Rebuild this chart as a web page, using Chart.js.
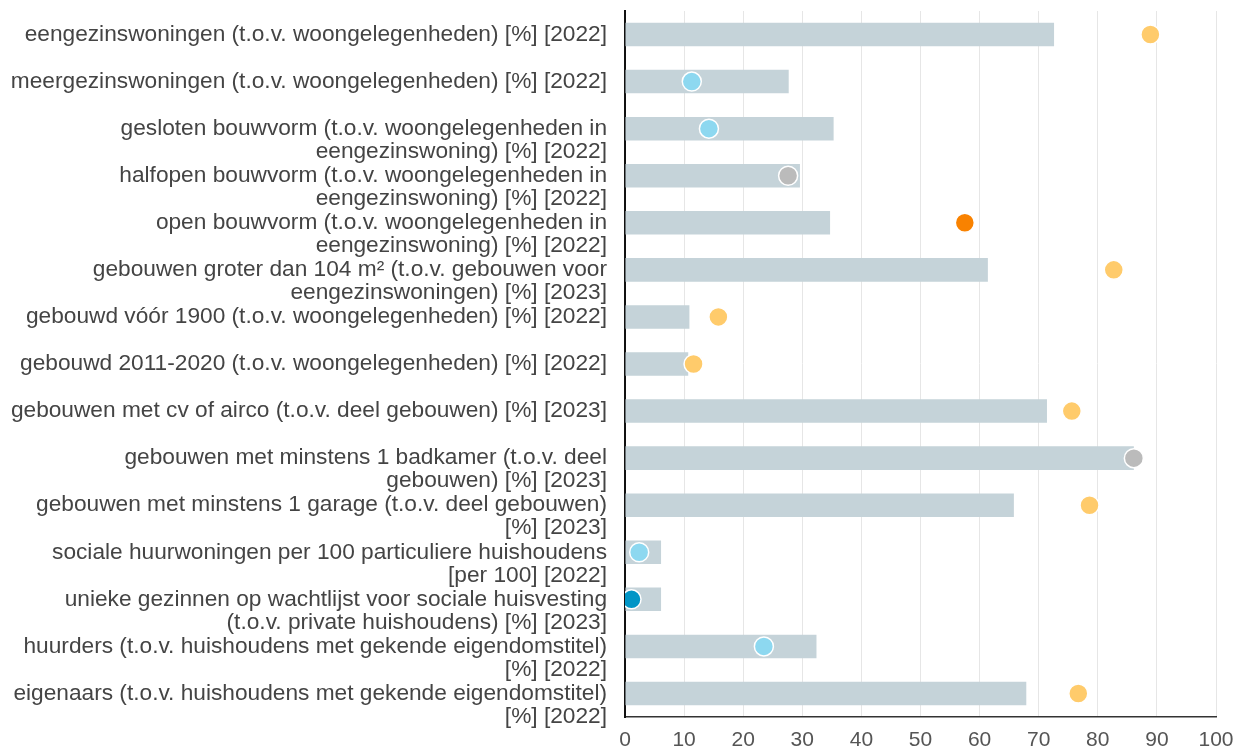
<!DOCTYPE html>
<html>
<head>
<meta charset="utf-8">
<script src="https://cdn.jsdelivr.net/npm/chart.js@4.4.1/dist/chart.umd.min.js"></script>
<style>
  html, body { margin: 0; padding: 0; background: #fff; }
  #wrap { width: 1245px; height: 753px; }
</style>
</head>
<body>
<div id="wrap"><canvas id="chart" width="1245" height="753"></canvas></div>
<script>
const labels = [
  ["eengezinswoningen (t.o.v. woongelegenheden) [%] [2022]", ""],
  ["meergezinswoningen (t.o.v. woongelegenheden) [%] [2022]", ""],
  ["gesloten bouwvorm (t.o.v. woongelegenheden in", "eengezinswoning) [%] [2022]"],
  ["halfopen bouwvorm (t.o.v. woongelegenheden in", "eengezinswoning) [%] [2022]"],
  ["open bouwvorm (t.o.v. woongelegenheden in", "eengezinswoning) [%] [2022]"],
  ["gebouwen groter dan 104 m² (t.o.v. gebouwen voor", "eengezinswoningen) [%] [2023]"],
  ["gebouwd vóór 1900 (t.o.v. woongelegenheden) [%] [2022]", ""],
  ["gebouwd 2011-2020 (t.o.v. woongelegenheden) [%] [2022]", ""],
  ["gebouwen met cv of airco (t.o.v. deel gebouwen) [%] [2023]", ""],
  ["gebouwen met minstens 1 badkamer (t.o.v. deel", "gebouwen) [%] [2023]"],
  ["gebouwen met minstens 1 garage (t.o.v. deel gebouwen)", "[%] [2023]"],
  ["sociale huurwoningen per 100 particuliere huishoudens", "[per 100] [2022]"],
  ["unieke gezinnen op wachtlijst voor sociale huisvesting", "(t.o.v. private huishoudens) [%] [2023]"],
  ["huurders (t.o.v. huishoudens met gekende eigendomstitel)", "[%] [2022]"],
  ["eigenaars (t.o.v. huishoudens met gekende eigendomstitel)", "[%] [2022]"]
];

// grey bars
const barValues = [72.6, 27.7, 35.3, 29.6, 34.7, 61.4, 10.9, 10.7, 71.4, 86.1, 65.8, 6.1, 6.1, 32.4, 67.9];
// coloured dots
const dotValues = [88.9, 11.3, 14.2, 27.6, 57.5, 82.7, 15.8, 11.6, 75.6, 86.1, 78.6, 2.4, 1.1, 23.5, 76.7];

const xTicks = [0, 10, 20, 30, 40, 50, 60, 70, 80, 90, 100];

const YELLOW = "#ffcb6b";
const LBLUE = "#8dd8f0";
const GREY = "#bbbbbb";
const ORANGE = "#f98200";
const DBLUE = "#0095c6";
const dotColors = [YELLOW, LBLUE, LBLUE, GREY, ORANGE, YELLOW, YELLOW, YELLOW, YELLOW, GREY, YELLOW, LBLUE, DBLUE, LBLUE, YELLOW];

const ctx = document.getElementById("chart").getContext("2d");

new Chart(ctx, {
  type: "bar",
  data: {
    labels,
    datasets: [
      {
        type: "line",
        data: dotValues,
        showLine: false,
        pointRadius: 9.5,
        pointHoverRadius: 9.5,
        pointBackgroundColor: dotColors,
        pointBorderColor: "#ffffff",
        pointBorderWidth: 1.5,
        order: 0
      },
      {
        data: barValues,
        backgroundColor: "#c5d3d9",
        barPercentage: 0.5,
        categoryPercentage: 1,
        order: 1
      }
    ]
  },
  options: {
    indexAxis: "y",
    responsive: false,
    animation: false,
    layout: { padding: { top: 11, right: 29, bottom: 0, left: 0 } },
    plugins: {
      legend: { display: false },
      tooltip: { enabled: false }
    },
    scales: {
      x: {
        min: 0,
        max: 100,
        afterBuildTicks: (scale) => { scale.ticks = xTicks.map(v => ({ value: v })); },
        afterFit: (scale) => { scale.height = 36; },
        grid: { color: "#e6e6e6", lineWidth: 1, drawTicks: false },
        border: { color: "#333333", width: 1.5 },
        ticks: {
          color: "#555555",
          padding: 11,
          maxRotation: 0,
          font: { family: "'Liberation Sans', Arial, sans-serif", size: 21 }
        }
      },
      y: {
        afterFit: (scale) => {
          scale.width = 625;
          scale.paddingTop = 0;
          scale.paddingBottom = 0;
        },
        grid: { display: false, drawTicks: false },
        border: { color: "#111111", width: 2 },
        ticks: {
          autoSkip: false,
          color: "#444444",
          padding: 18,
          labelOffset: 11.5,
          font: { family: "'Liberation Sans', Arial, sans-serif", size: 22.7, lineHeight: 1.013 }
        }
      }
    }
  }
});
</script>
</body>
</html>
